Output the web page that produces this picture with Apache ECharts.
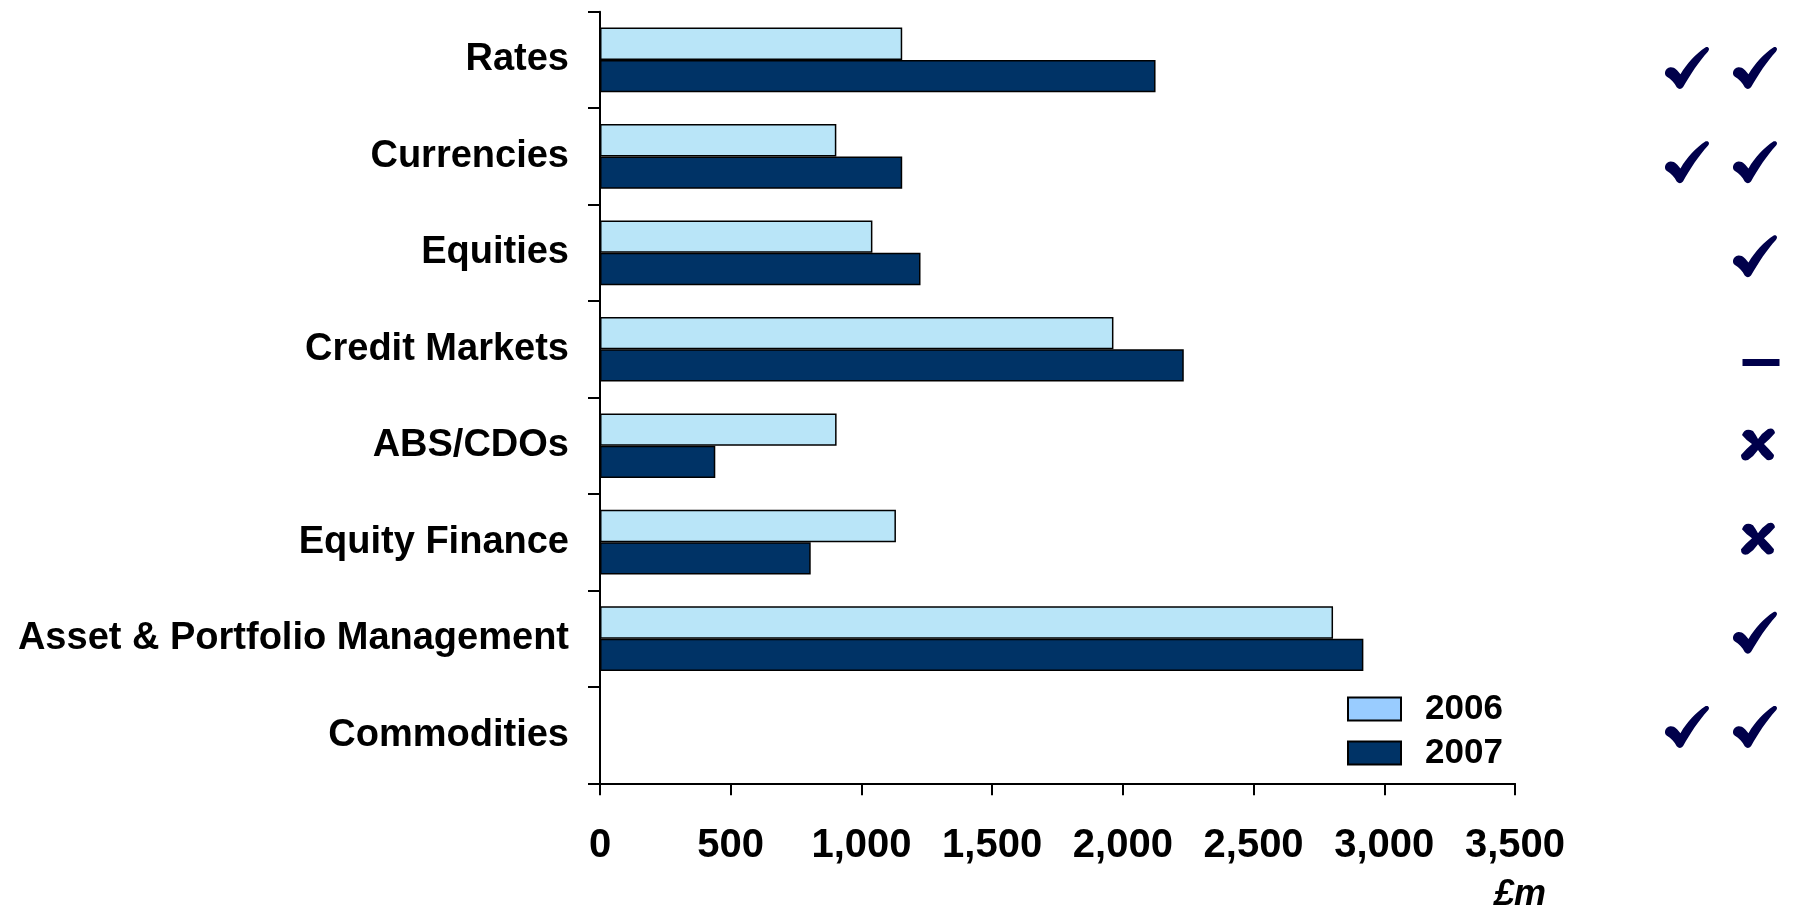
<!DOCTYPE html>
<html>
<head>
<meta charset="utf-8">
<title>Revenue by business line, 2006 vs 2007</title>
<script src="https://cdn.jsdelivr.net/npm/echarts@6/dist/echarts.min.js"></script>
<style>
  html, body { margin: 0; padding: 0; background: #fff; }
  #chart { width: 1793px; height: 907px; }
</style>
</head>
<body>
<div id="chart"></div>
<script>
// Business lines, top to bottom
const categories = [
  'Rates', 'Currencies', 'Equities', 'Credit Markets',
  'ABS/CDOs', 'Equity Finance', 'Asset & Portfolio Management', 'Commodities'
];
// Income, £m
const values2006 = [1156, 904, 1042, 1964, 905, 1132, 2804, null];
const values2007 = [2125, 1156, 1226, 2233, 441, 806, 2920, null];
const seriesNames = ['2006', '2007'];
// Value axis ticks
const xTicks = [0, 500, 1000, 1500, 2000, 2500, 3000, 3500];
const unitLabel = '£m';
// Performance markers, two columns per business line
const markerColumns = ['left', 'right'];
const markersLeft  = ['check', 'check', '', '', '', '', '', 'check'];
const markersRight = ['check', 'check', 'check', 'dash', 'cross', 'cross', 'check', 'check'];

const FONT = '"Liberation Sans", Arial, sans-serif';
const NAVY = '#003366';
const MARK = '#00004B';

const markerShapes = {
  check: {
    symbol: 'path://M136,1 C146,-2 150,8 143,15 C114,46 88,86 64,127 Q54,138 44,127 C37,113 26,102 13,94 C2,87 6,66 24,64 C38,63 47,74 56,86 C78,50 104,22 136,1 Z',
    size: [44, 42],
    offset: [0, 0]
  },
  cross: {
    symbol: 'path://M1,7 Q4,-1 12,3 Q15,7 17,11 Q21,5 27,1 Q33,-1 34,5 Q29,11 23,16 Q29,22 33,27 Q33,33 26,32 Q20,27 17,22 Q13,28 7,32 Q0,34 0,27 Q5,21 11,16 Q5,12 1,7 Z',
    size: [34, 32],
    offset: [3, 0]
  },
  dash: {
    symbol: 'rect',
    size: [37, 7],
    offset: [6, 12]
  }
};

function markerData(list, col) {
  const out = [];
  list.forEach(function (kind, i) {
    if (!kind) return;
    const s = markerShapes[kind];
    out.push({
      value: [col, categories[i]],
      symbol: s.symbol,
      symbolSize: s.size,
      symbolOffset: s.offset
    });
  });
  return out;
}

const fmt = function (v) {
  return String(v).replace(/\B(?=(\d{3})+(?!\d))/g, ',');
};

const legendText = {
  fontFamily: FONT,
  fontSize: 35,
  fontWeight: 'bold',
  color: '#000',
  lineHeight: 23,
  padding: [0, 0, 0, 19]
};

function legendFor(name, color, top) {
  return {
    orient: 'vertical',
    left: 1347,
    top: top,
    padding: 0,
    itemWidth: 53,
    itemHeight: 23,
    icon: 'rect',
    selectedMode: false,
    textStyle: legendText,
    data: [{ name: name, itemStyle: { color: color, borderColor: '#000', borderWidth: 2 } }]
  };
}

const chart = echarts.init(document.getElementById('chart'), null, { renderer: 'canvas' });

chart.setOption({
  animation: false,
  backgroundColor: '#ffffff',
  textStyle: { fontFamily: FONT },
  grid: [
    { left: 600, right: 278, top: 11.7, bottom: 123.7, containLabel: false },
    { left: 1653, width: 136, top: 21, height: 753, containLabel: false }
  ],
  legend: [
    legendFor(seriesNames[0], '#99CCFF', 691.5),
    legendFor(seriesNames[1], NAVY, 735.5)
  ],
  xAxis: [
    {
      type: 'value',
      gridIndex: 0,
      min: xTicks[0],
      max: xTicks[xTicks.length - 1],
      interval: xTicks[1] - xTicks[0],
      axisLine: { show: true, lineStyle: { color: '#000', width: 2 } },
      axisTick: { show: true, inside: false, length: 12, lineStyle: { color: '#000', width: 2 } },
      splitLine: { show: false },
      axisLabel: {
        show: true,
        margin: 43,
        fontFamily: FONT,
        fontSize: 40,
        fontWeight: 'bold',
        color: '#000',
        showMinLabel: true,
        showMaxLabel: true,
        formatter: fmt
      }
    },
    {
      type: 'category',
      gridIndex: 1,
      data: markerColumns,
      show: false
    }
  ],
  yAxis: [
    {
      type: 'category',
      gridIndex: 0,
      data: categories,
      inverse: true,
      axisLine: { show: true, lineStyle: { color: '#000', width: 2 } },
      axisTick: { show: true, inside: false, length: 12, alignWithLabel: false, lineStyle: { color: '#000', width: 2 } },
      splitLine: { show: false },
      axisLabel: {
        margin: 31,
        fontFamily: FONT,
        fontSize: 38,
        fontWeight: 'bold',
        color: '#000'
      }
    },
    {
      type: 'category',
      gridIndex: 1,
      data: categories,
      inverse: true,
      show: false
    }
  ],
  series: [
    {
      name: seriesNames[0],
      type: 'bar',
      xAxisIndex: 0,
      yAxisIndex: 0,
      data: values2006,
      barGap: '0%',
      barCategoryGap: '33%',
      itemStyle: { color: '#B9E5F8', borderColor: '#000', borderWidth: 1.5 }
    },
    {
      name: seriesNames[1],
      type: 'bar',
      xAxisIndex: 0,
      yAxisIndex: 0,
      data: values2007,
      barGap: '0%',
      barCategoryGap: '33%',
      itemStyle: { color: NAVY, borderColor: '#000', borderWidth: 1.5 }
    },
    {
      name: 'markers-left',
      type: 'scatter',
      xAxisIndex: 1,
      yAxisIndex: 1,
      symbolKeepAspect: false,
      itemStyle: { color: MARK, opacity: 1 },
      data: markerData(markersLeft, markerColumns[0]),
      silent: true
    },
    {
      name: 'markers-right',
      type: 'scatter',
      xAxisIndex: 1,
      yAxisIndex: 1,
      symbolKeepAspect: false,
      itemStyle: { color: MARK, opacity: 1 },
      data: markerData(markersRight, markerColumns[1]),
      silent: true
    }
  ],
  graphic: [
    {
      type: 'text',
      right: 1793 - 1546,
      top: 877,
      style: {
        text: unitLabel,
        fontFamily: FONT,
        fontSize: 36,
        fontWeight: 'bold',
        fontStyle: 'italic',
        fill: '#000'
      }
    }
  ]
});
</script>
</body>
</html>
